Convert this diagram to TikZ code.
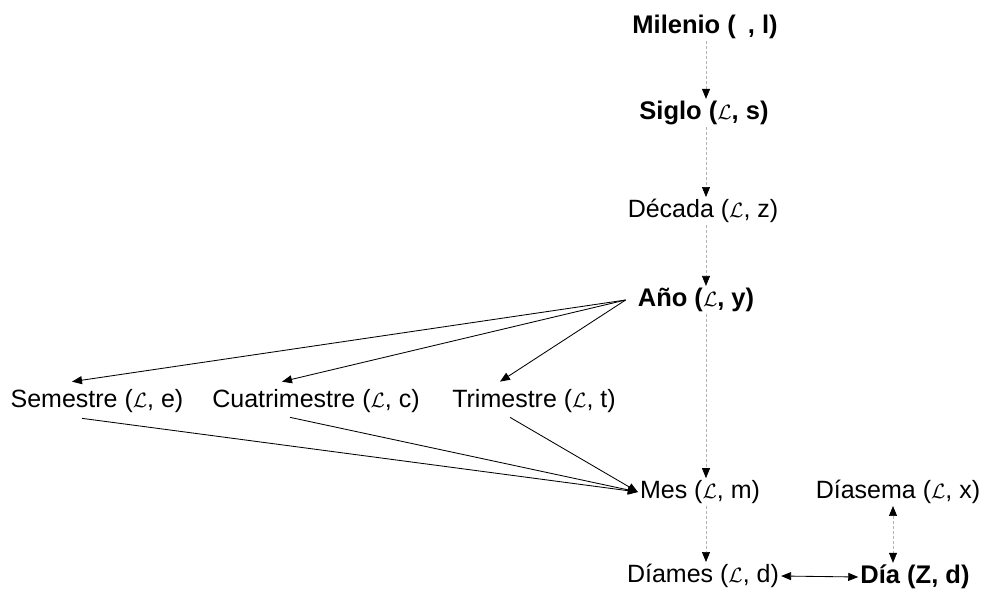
\documentclass[tikz,border=0pt]{standalone}
\usepackage{fontspec}
\setmainfont{Liberation Sans}
\usetikzlibrary{arrows.meta}
\newcommand{\Lsym}{{\fontsize{21}{21}\selectfont$\mathcal{L}$}}
\begin{document}
\begin{tikzpicture}[x=1pt,y=-1pt,
  lbl/.style={inner sep=2pt, font=\fontsize{25}{28}\selectfont},
  blbl/.style={lbl, font=\fontsize{25.5}{28}\selectfont\bfseries},
  solidarr/.style={draw=black, line width=0.85pt, -{Triangle[length=10pt,width=8pt]}},
  dasharr/.style={draw=black!30, line width=0.7pt, dash pattern=on 3pt off 2pt, -{Triangle[length=10pt,width=8pt,color=black]}},
  dashdbl/.style={draw=black!30, line width=0.7pt, dash pattern=on 3pt off 2pt, {Triangle[length=10pt,width=8pt,color=black]}-{Triangle[length=10pt,width=8pt,color=black]}},
  soliddbl/.style={draw=black, line width=0.85pt, {Triangle[length=10pt,width=8pt]}-{Triangle[length=10pt,width=8pt]}}
]
\useasboundingbox (0,0) rectangle (994,599);
\coordinate (spine) at (706,0);
\coordinate (dspine) at (893,0);

\node[blbl] (milenio) at (705,27) {Milenio (\hspace{12pt}, l)};
\node[blbl] (siglo) at (704,113) {Siglo (\Lsym, s)};
\node[lbl] (decada) at (703,211) {Década (\Lsym, z)};
\node[blbl] (ano) at (696,300) {Año (\Lsym, y)};
\node[lbl] (semestre) at (97,401) {Semestre (\Lsym, e)};
\node[lbl] (cuatri) at (316,401) {Cuatrimestre (\Lsym, c)};
\node[lbl] (tri) at (534,401) {Trimestre (\Lsym, t)};
\node[lbl] (mes) at (700,492) {Mes (\Lsym, m)};
\node[lbl] (diasema) at (898,492) {Díasema (\Lsym, x)};
\node[lbl] (diames) at (703,576) {Díames (\Lsym, d)};
\node[blbl] (dia) at (915,577) {Día (Z, d)};

\draw[dasharr] (milenio.south -| spine) -- (siglo.north -| spine);
\draw[dasharr] (siglo.south -| spine) -- (decada.north -| spine);
\draw[dasharr] (decada.south -| spine) -- (ano.north -| spine);
\draw[dasharr] (ano.south -| spine) -- (mes.north -| spine);
\draw[dasharr] (mes.south -| spine) -- (diames.north -| spine);
\draw[dashdbl] (diasema.south -| dspine) -- (dia.north -| dspine);
\draw[soliddbl] (diames.east) -- (dia.west);

\draw[solidarr] ([xshift=-10pt]ano.west) -- ([xshift=-25pt,yshift=5.5pt]semestre.north);
\draw[solidarr] ([xshift=-10pt]ano.west) -- ([xshift=-34pt,yshift=5.5pt]cuatri.north);
\draw[solidarr] ([xshift=-10pt]ano.west) -- ([xshift=-34pt,yshift=5.5pt]tri.north);

\draw[solidarr] ([xshift=-15pt,yshift=-3.5pt]semestre.south) -- (mes.west);
\draw[solidarr] ([xshift=-26pt,yshift=-2.5pt]cuatri.south) -- (mes.west);
\draw[solidarr] ([xshift=-24pt,yshift=-2.5pt]tri.south) -- (mes.west);
\end{tikzpicture}
\end{document}
